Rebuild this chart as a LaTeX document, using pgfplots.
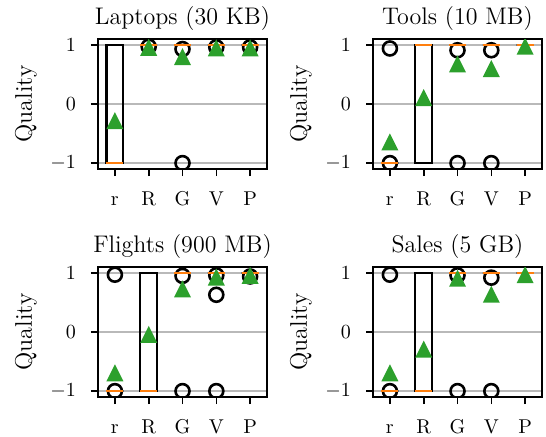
\documentclass[border=0pt]{standalone}
\usepackage{pgfplots}
\pgfplotsset{compat=1.18}
\usepgfplotslibrary{statistics}
\definecolor{morange}{HTML}{FF7F0E}
\definecolor{mgreen}{HTML}{2CA02C}
\pgfdeclareplotmark{mtri}{%
  \pgfpathmoveto{\pgfqpoint{0pt}{\pgfplotmarksize}}%
  \pgfpathlineto{\pgfqpoint{-\pgfplotmarksize}{-\pgfplotmarksize}}%
  \pgfpathlineto{\pgfqpoint{\pgfplotmarksize}{-\pgfplotmarksize}}%
  \pgfpathclose\pgfusepathqfill}
\pgfplotsset{
  qstyle/.style={
    scale only axis, width=84.5pt, height=65pt,
    xmin=0.5, xmax=5.5, ymin=-1.1, ymax=1.1,
    xtick={1,2,3,4,5}, xticklabels={r,R,G,V,P},
    ytick={-1,0,1},
    ymajorgrids, grid style={gray!55, line width=0.8pt},
    tick align=outside, major tick length=3.5pt,
    tick style={black, line width=0.8pt},
    tick pos=left,
    xticklabel style={text height=6.9pt, text depth=0pt, yshift=-4.5pt},
    yticklabel style={xshift=-4pt},
    axis line style={line width=0.9pt},
    ylabel={Quality}, label style={font=\large}, title style={font=\large, yshift=-5.5pt},
    clip marker paths=true,
    boxplot/draw direction=y,
  },
  mymean/.style={only marks, mark=mtri, mark size=4.25pt, mgreen},
  myflier/.style={only marks, mark=o, mark size=3.5pt, black, mark options={line width=1.3pt}},
  mybox/.style={black, line width=1.1pt, boxplot/every median/.style={draw=morange, line width=1.1pt}},
}
\begin{document}
\begin{tikzpicture}
% ---------------- Laptops ----------------
\begin{axis}[qstyle, at={(0pt,0pt)}, anchor=north west, title={Laptops (30 KB)}]
\addplot[myflier] coordinates {(2,0.97) (3,0.93) (3,-1) (4,0.96) (5,0.96)};
\addplot[mybox, boxplot prepared={draw position=1, median=-1, lower quartile=-1, upper quartile=1, lower whisker=-1, upper whisker=1, box extend=0.5, whisker extend=0}] coordinates {};
\addplot[mybox, boxplot prepared={draw position=2, median=1, lower quartile=1, upper quartile=1, lower whisker=1, upper whisker=1, box extend=0.5, whisker extend=0}] coordinates {};
\addplot[mybox, boxplot prepared={draw position=3, median=1, lower quartile=1, upper quartile=1, lower whisker=1, upper whisker=1, box extend=0.5, whisker extend=0}] coordinates {};
\addplot[mybox, boxplot prepared={draw position=4, median=1, lower quartile=1, upper quartile=1, lower whisker=1, upper whisker=1, box extend=0.5, whisker extend=0}] coordinates {};
\addplot[mybox, boxplot prepared={draw position=5, median=1, lower quartile=1, upper quartile=1, lower whisker=1, upper whisker=1, box extend=0.5, whisker extend=0}] coordinates {};
\addplot[mymean] coordinates {(1,-0.28) (2,0.96) (3,0.80) (4,0.95) (5,0.95)};
\end{axis}
% ---------------- Tools ----------------
\begin{axis}[qstyle, at={(137.5pt,0pt)}, anchor=north west, title={Tools (10 MB)}]
\addplot[myflier] coordinates {(1,0.94) (1,-1) (3,0.91) (3,-1) (4,0.91) (4,-1)};
\addplot[mybox, boxplot prepared={draw position=1, median=-1, lower quartile=-1, upper quartile=-1, lower whisker=-1, upper whisker=-1, box extend=0.5, whisker extend=0}] coordinates {};
\addplot[mybox, boxplot prepared={draw position=2, median=1, lower quartile=-1, upper quartile=1, lower whisker=-1, upper whisker=1, box extend=0.5, whisker extend=0}] coordinates {};
\addplot[mybox, boxplot prepared={draw position=3, median=1, lower quartile=1, upper quartile=1, lower whisker=1, upper whisker=1, box extend=0.5, whisker extend=0}] coordinates {};
\addplot[mybox, boxplot prepared={draw position=4, median=1, lower quartile=1, upper quartile=1, lower whisker=1, upper whisker=1, box extend=0.5, whisker extend=0}] coordinates {};
\addplot[mybox, boxplot prepared={draw position=5, median=1, lower quartile=1, upper quartile=1, lower whisker=1, upper whisker=1, box extend=0.5, whisker extend=0}] coordinates {};
\addplot[mymean] coordinates {(1,-0.64) (2,0.11) (3,0.68) (4,0.60) (5,0.98)};
\end{axis}
% ---------------- Flights ----------------
\begin{axis}[qstyle, at={(0pt,-114pt)}, anchor=north west, title={Flights (900 MB)}]
\addplot[myflier] coordinates {(1,0.97) (1,-1) (3,0.95) (3,-1) (4,0.96) (4,0.63) (4,-1) (5,0.94)};
\addplot[mybox, boxplot prepared={draw position=1, median=-1, lower quartile=-1, upper quartile=-1, lower whisker=-1, upper whisker=-1, box extend=0.5, whisker extend=0}] coordinates {};
\addplot[mybox, boxplot prepared={draw position=2, median=-1, lower quartile=-1, upper quartile=1, lower whisker=-1, upper whisker=1, box extend=0.5, whisker extend=0}] coordinates {};
\addplot[mybox, boxplot prepared={draw position=3, median=1, lower quartile=1, upper quartile=1, lower whisker=1, upper whisker=1, box extend=0.5, whisker extend=0}] coordinates {};
\addplot[mybox, boxplot prepared={draw position=4, median=1, lower quartile=1, upper quartile=1, lower whisker=1, upper whisker=1, box extend=0.5, whisker extend=0}] coordinates {};
\addplot[mybox, boxplot prepared={draw position=5, median=1, lower quartile=1, upper quartile=1, lower whisker=1, upper whisker=1, box extend=0.5, whisker extend=0}] coordinates {};
\addplot[mymean] coordinates {(1,-0.69) (2,-0.04) (3,0.73) (4,0.93) (5,0.96)};
\end{axis}
% ---------------- Sales ----------------
\begin{axis}[qstyle, at={(137.5pt,-114pt)}, anchor=north west, title={Sales (5 GB)}]
\addplot[myflier] coordinates {(1,0.97) (1,-1) (3,0.96) (3,-1) (4,0.92) (4,-1)};
\addplot[mybox, boxplot prepared={draw position=1, median=-1, lower quartile=-1, upper quartile=-1, lower whisker=-1, upper whisker=-1, box extend=0.5, whisker extend=0}] coordinates {};
\addplot[mybox, boxplot prepared={draw position=2, median=-1, lower quartile=-1, upper quartile=1, lower whisker=-1, upper whisker=1, box extend=0.5, whisker extend=0}] coordinates {};
\addplot[mybox, boxplot prepared={draw position=3, median=1, lower quartile=1, upper quartile=1, lower whisker=1, upper whisker=1, box extend=0.5, whisker extend=0}] coordinates {};
\addplot[mybox, boxplot prepared={draw position=4, median=1, lower quartile=1, upper quartile=1, lower whisker=1, upper whisker=1, box extend=0.5, whisker extend=0}] coordinates {};
\addplot[mybox, boxplot prepared={draw position=5, median=1, lower quartile=1, upper quartile=1, lower whisker=1, upper whisker=1, box extend=0.5, whisker extend=0}] coordinates {};
\addplot[mymean] coordinates {(1,-0.69) (2,-0.29) (3,0.91) (4,0.64) (5,0.97)};
\end{axis}
\pgfresetboundingbox
\path[use as bounding box] (-49pt,19.5pt) rectangle (224pt,-198.5pt);
\end{tikzpicture}
\end{document}
